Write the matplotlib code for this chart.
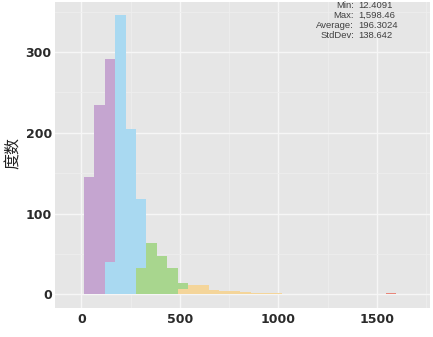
import numpy as np
import matplotlib
matplotlib.use("Agg")
import matplotlib.pyplot as plt
from matplotlib.ticker import MultipleLocator

# 30 equal-width bins between the min and max of the data
data_min = 12.4091
data_max = 1598.46
n_bins = 30

# counts per bin, split by colour group (stacked: later groups at the bottom)
purple = [145, 235, 252] + [0] * 27
blue = [0, 0, 40, 346, 205, 86] + [0] * 24
green = [0] * 5 + [32, 64, 47, 32, 8] + [0] * 20
orange = [0] * 9 + [6, 12, 12, 5, 4, 4, 3, 2, 2, 1.5] + [0] * 11
red = [0] * 29 + [2]

stats_labels = ["Min:", "Max:", "Average:", "StdDev:"]
stats_values = ["12.4091", "1,598.46", "196.3024", "138.642"]

groups = [
    (red, "#e8867a"),
    (orange, "#f4d59a"),
    (green, "#a8d68e"),
    (blue, "#a9d9f1"),
    (purple, "#c5a5d0"),
]

edges = np.linspace(data_min, data_max, n_bins + 1)
lefts = edges[:-1]
width = np.diff(edges)

fig = plt.figure(figsize=(4.33, 3.37), dpi=100)
ax = fig.add_axes([55 / 433, 1 - 308 / 337, 375 / 433, 306 / 337])
ax.set_facecolor("#e6e6e6")
for spine in ax.spines.values():
    spine.set_visible(False)

bottom = np.zeros(n_bins)
for counts, color in groups:
    counts = np.asarray(counts, dtype=float)
    ax.bar(lefts, counts, width=width, bottom=bottom, align="edge",
           color=color, linewidth=0, zorder=2)
    bottom += counts

ax.set_xlim(-134, 1769)
ax.set_ylim(-17, 362)
ax.xaxis.set_major_locator(MultipleLocator(500))
ax.xaxis.set_minor_locator(MultipleLocator(250))
ax.yaxis.set_major_locator(MultipleLocator(100))
ax.yaxis.set_minor_locator(MultipleLocator(50))
ax.grid(True, which="major", color="#f6f6f6", linewidth=1.0, zorder=0)
ax.grid(True, which="minor", color="#eeeeee", linewidth=0.6, zorder=0)
ax.set_axisbelow(True)
ax.tick_params(which="both", length=0)
ax.tick_params(axis="x", pad=3.3)
ax.tick_params(axis="y", pad=2.3)
for lab in ax.get_xticklabels() + ax.get_yticklabels():
    lab.set_fontweight("bold")
    lab.set_fontsize(9)
    lab.set_color("#2a2a2a")
    lab.set_family("DejaVu Sans")

fig.text(13 / 433, 1 - 153 / 337, "度数", rotation=90, ha="center", va="center",
         fontsize=11.5, family=["Noto Sans CJK SC", "DejaVu Sans"], color="#222222")

for i, (lab, val) in enumerate(zip(stats_labels, stats_values)):
    y = 1 - (5 + 10 * i) / 337
    fig.text(354 / 433, y, lab, ha="right", va="center", fontsize=6.8,
             family="Liberation Sans", color="#404040")
    fig.text(358 / 433, y, val, ha="left", va="center", fontsize=6.8,
             family="Liberation Sans", color="#404040")

fig.savefig("out.png", dpi=100)
